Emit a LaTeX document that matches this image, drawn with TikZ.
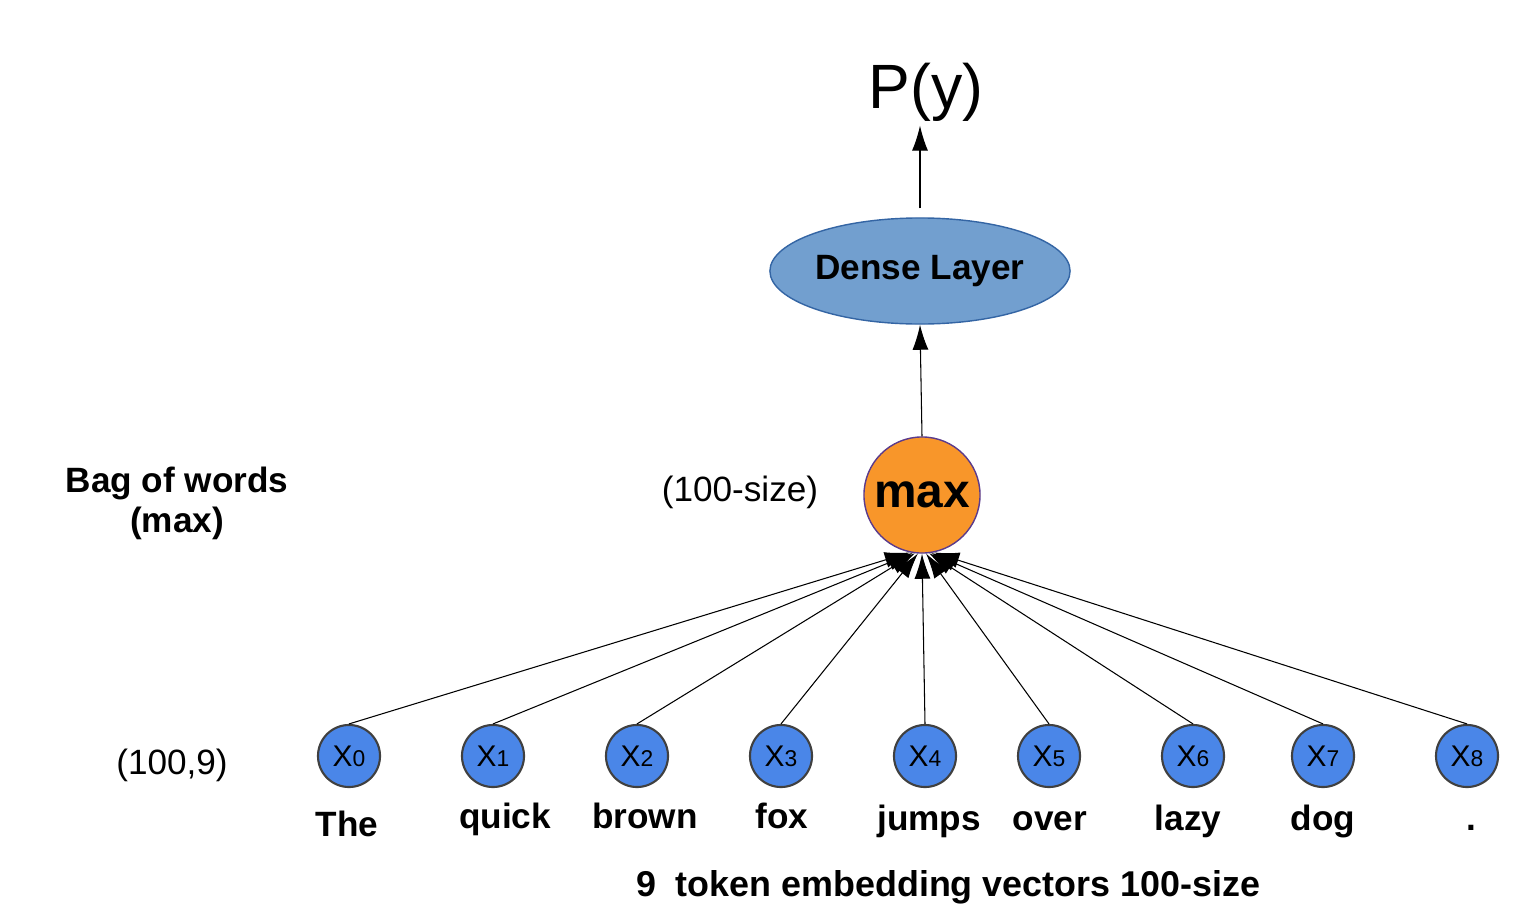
\documentclass[tikz,border=0pt]{standalone}
\usepackage{fontspec}
\setmainfont{Liberation Sans}
\usetikzlibrary{shapes.geometric,arrows.meta}
\definecolor{tokenblue}{HTML}{4A86E8}
\definecolor{denseblue}{HTML}{729FCF}
\definecolor{denseedge}{HTML}{3465A4}
\definecolor{maxorange}{HTML}{F8962A}
\definecolor{maxedge}{HTML}{5B3B8C}
\begin{document}
\begin{tikzpicture}[x=0.01cm, y=-0.01cm,
    token/.style={circle, minimum size=0.62cm, inner sep=0pt, fill=tokenblue,
        draw=black!75, line width=0.6pt, font=\fontsize{8.5}{9}\selectfont},
    word/.style={anchor=base, font=\fontsize{10}{12}\selectfont\bfseries},
    plain/.style={font=\fontsize{10}{12}\selectfont},
    feed/.style={-{Latex[length=0.25cm,width=0.16cm]}, line width=0.3pt}]
    \useasboundingbox (0,0) rectangle (1536,912);

    % Draw the output, the dense layer and the max node
    \node[font=\fontsize{17.8}{20}\selectfont] (py) at (926,92) {P(y)};
    \node[ellipse, minimum width=3cm, minimum height=1.06cm, inner sep=0pt, fill=denseblue,
        draw=denseedge, line width=0.4pt, font=\fontsize{10}{12}\selectfont\bfseries]
        (dense) at (920,271) {Dense Layer};
    \node[circle, minimum size=1.16cm, inner sep=0pt, fill=maxorange, draw=maxedge,
        line width=0.4pt, font=\fontsize{13.6}{15}\selectfont\bfseries]
        (max) at (922,495) {max};

    % Draw the nine token vectors
    \node[token] (x0) at (349,756) {X{\fontsize{6.5}{7}\selectfont 0}};
    \node[token] (x1) at (493,756) {X{\fontsize{6.5}{7}\selectfont 1}};
    \node[token] (x2) at (637,756) {X{\fontsize{6.5}{7}\selectfont 2}};
    \node[token] (x3) at (781,756) {X{\fontsize{6.5}{7}\selectfont 3}};
    \node[token] (x4) at (925,756) {X{\fontsize{6.5}{7}\selectfont 4}};
    \node[token] (x5) at (1049,756) {X{\fontsize{6.5}{7}\selectfont 5}};
    \node[token] (x6) at (1193,756) {X{\fontsize{6.5}{7}\selectfont 6}};
    \node[token] (x7) at (1323,756) {X{\fontsize{6.5}{7}\selectfont 7}};
    \node[token] (x8) at (1467,756) {X{\fontsize{6.5}{7}\selectfont 8}};

    % Draw the words under them
    \node[word] (w0) at (347,836) {The};
    \node[word] (w1) at (505,828) {quick};
    \node[word] (w2) at (645,828) {brown};
    \node[word] (w3) at (782,828) {fox};
    \node[word] (w4) at (929,830) {jumps};
    \node[word] (w5) at (1050,830) {over};
    \node[word] (w6) at (1188,830) {lazy};
    \node[word] (w7) at (1323,830) {dog};
    \node[word] (w8) at (1471,830) {.};

    % Labels
    \node[align=center, font=\fontsize{10}{11.4}\selectfont\bfseries] (bag) at (177,503) {Bag of words\\(max)};
    \node[plain] (sz) at (740,492) {(100-size)};
    \node[plain] (shape) at (172,765) {(100,9)};
    \node[word, font=\fontsize{10.2}{12}\selectfont\bfseries] (caption) at (948,896) {9\ \ token embedding vectors 100-size};

    % Draw the connectors
    \draw[feed] (x0.north) -- (max.258);
    \draw[feed] (x1.north) -- (max.261);
    \draw[feed] (x2.north) -- (max.263);
    \draw[feed] (x3.north) -- (max.266);
    \draw[feed] (x4.north) -- (max.270);
    \draw[feed] (x5.north) -- (max.274);
    \draw[feed] (x6.north) -- (max.277);
    \draw[feed] (x7.north) -- (max.279);
    \draw[feed] (x8.north) -- (max.282);
    \draw[feed] (max.north) -- (dense.south);
    \draw[feed, shorten <=0.09cm, shorten >=-0.08cm] (dense.north) -- (dense.north |- py.south);
\end{tikzpicture}
\end{document}
